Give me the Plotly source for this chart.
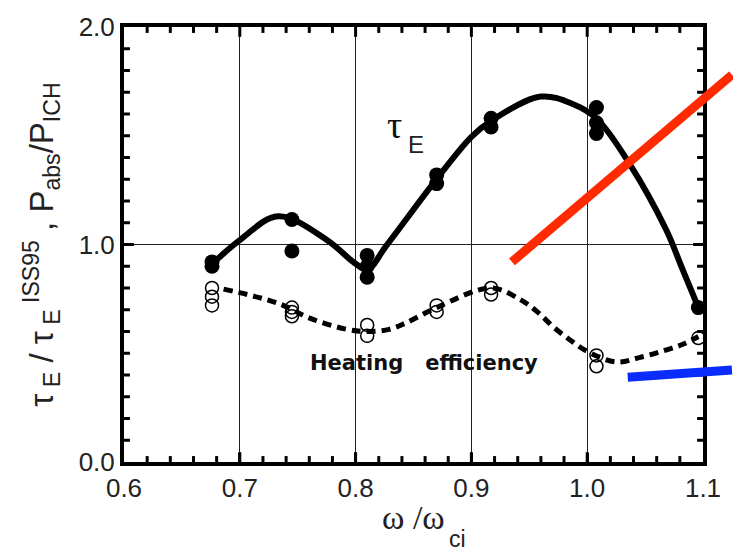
import plotly.graph_objects as go

# Measured points: normalized confinement time (filled) and heating efficiency (open)
tau_x = [0.676, 0.676, 0.745, 0.745, 0.81, 0.81, 0.81, 0.87, 0.87,
         0.917, 0.917, 1.008, 1.008, 1.008, 1.096]
tau_y = [0.90, 0.92, 1.115, 0.97, 0.95, 0.90, 0.85, 1.32, 1.28,
         1.58, 1.54, 1.63, 1.56, 1.51, 0.71]

eff_x = [0.676, 0.676, 0.676, 0.745, 0.745, 0.745, 0.81, 0.81, 0.87, 0.87,
         0.917, 0.917, 1.008, 1.008, 1.096]
eff_y = [0.80, 0.76, 0.72, 0.71, 0.69, 0.67, 0.63, 0.58, 0.72, 0.69,
         0.80, 0.77, 0.49, 0.44, 0.57]

# Hand-drawn guide curves through the data
tau_fit_x = [0.676, 0.70, 0.733, 0.7755, 0.798, 0.81, 0.8266, 0.8706, 0.90,
             0.9175, 0.96, 0.988, 1.008, 1.0367, 1.068, 1.082, 1.0963]
tau_fit_y = [0.91, 1.02, 1.13, 1.02, 0.92, 0.885, 0.995, 1.305, 1.495,
             1.57, 1.68, 1.645, 1.58, 1.37, 1.07, 0.89, 0.706]

eff_fit_x = [0.686, 0.733, 0.761, 0.7925, 0.81, 0.829, 0.8436, 0.87, 0.917,
             0.943, 0.957, 0.971, 0.9855, 0.9995, 1.025, 1.045, 1.065, 1.082, 1.096]
eff_fit_y = [0.795, 0.73, 0.66, 0.61, 0.60, 0.61, 0.64, 0.71, 0.80,
             0.744, 0.69, 0.62, 0.56, 0.51, 0.46, 0.48, 0.51, 0.54, 0.577]

X_RANGE = [0.6, 1.1]
Y_RANGE = [0.0, 2.0]
X_MAJOR, X_MINOR = 0.1, 0.02
Y_MAJOR, Y_MINOR = 1.0, 0.1

# Highlight strokes (axis units), drawn beyond the frame on the right
red_stroke = [(0.935, 0.92), (1.125, 1.78)]
blue_stroke = [(1.035, 0.39), (1.125, 0.423)]

WIDTH, HEIGHT = 733, 553
MARGIN = dict(l=124, r=22, t=21, b=91)
PLOT_W = WIDTH - MARGIN["l"] - MARGIN["r"]
PLOT_H = HEIGHT - MARGIN["t"] - MARGIN["b"]
X_PER_PX = (X_RANGE[1] - X_RANGE[0]) / PLOT_W
Y_PER_PX = (Y_RANGE[1] - Y_RANGE[0]) / PLOT_H


def to_paper(pt):
    x, y = pt
    return ((x - X_RANGE[0]) / (X_RANGE[1] - X_RANGE[0]),
            (y - Y_RANGE[0]) / (Y_RANGE[1] - Y_RANGE[0]))


SERIF = "Liberation Serif, Times New Roman, serif"
SANS = "Liberation Sans, Arial, sans-serif"
TEXT = "#222"

fig = go.Figure()

fig.add_trace(go.Scatter(
    x=tau_fit_x, y=tau_fit_y, mode="lines",
    line=dict(color="black", width=6, shape="spline", smoothing=1.0),
    hoverinfo="skip", showlegend=False))

fig.add_trace(go.Scatter(
    x=eff_fit_x, y=eff_fit_y, mode="lines",
    line=dict(color="black", width=5, shape="spline", smoothing=1.0,
              dash="9px,6px"),
    hoverinfo="skip", showlegend=False))

fig.add_trace(go.Scatter(
    x=eff_x, y=eff_y, mode="markers",
    marker=dict(symbol="circle-open", size=13, color="black",
                line=dict(width=1.5, color="black")),
    showlegend=False))

fig.add_trace(go.Scatter(
    x=tau_x, y=tau_y, mode="markers",
    marker=dict(symbol="circle", size=15, color="black"),
    showlegend=False))


# Inward tick marks on all four sides of the frame, as one segment trace
def tick_values(lo, hi, step):
    n = int(round((hi - lo) / step))
    return [round(lo + i * step, 6) for i in range(1, n)]


def is_major(v, step):
    return abs(v / step - round(v / step)) < 1e-6


tick_x, tick_y = [], []
for v in tick_values(X_RANGE[0], X_RANGE[1], X_MINOR):
    h = (10 if is_major(v, X_MAJOR) else 6) * Y_PER_PX
    tick_x += [v, v, None, v, v, None]
    tick_y += [Y_RANGE[0], Y_RANGE[0] + h, None, Y_RANGE[1], Y_RANGE[1] - h, None]
for v in tick_values(Y_RANGE[0], Y_RANGE[1], Y_MINOR):
    w = (10 if is_major(v, Y_MAJOR) else 6) * X_PER_PX
    tick_x += [X_RANGE[0], X_RANGE[0] + w, None, X_RANGE[1], X_RANGE[1] - w, None]
    tick_y += [v, v, None, v, v, None]

fig.add_trace(go.Scatter(
    x=tick_x, y=tick_y, mode="lines", line=dict(color="black", width=3),
    hoverinfo="skip", showlegend=False, connectgaps=False))

for (p0, p1), col in ((red_stroke, "#ff2a00"), (blue_stroke, "#0a2cff")):
    a, b = to_paper(p0), to_paper(p1)
    fig.add_shape(type="line", xref="paper", yref="paper",
                  x0=a[0], y0=a[1], x1=b[0], y1=b[1],
                  line=dict(color=col, width=9))

# curve labels
fig.add_annotation(x=0.834, y=1.55, xref="x", yref="y", showarrow=False,
                   text="τ", font=dict(family=SERIF, size=38, color="#111"))
fig.add_annotation(x=0.852, y=1.46, xref="x", yref="y", showarrow=False,
                   text="E", font=dict(family=SANS, size=24, color=TEXT))
fig.add_annotation(x=0.859, y=0.455, xref="x", yref="y", showarrow=False,
                   text="<b>Heating   efficiency</b>",
                   font=dict(family="DejaVu Sans, Verdana, sans-serif",
                             size=21, color="#111"))

# x-axis title: ω /ω with a dropped "ci" subscript
fig.add_annotation(x=0.85, y=-0.127, xref="x", yref="paper", showarrow=False,
                   xanchor="center", yanchor="middle",
                   text="ω /ω", font=dict(family=SERIF, size=34, color=TEXT))
fig.add_annotation(x=0.888, y=-0.178, xref="x", yref="paper", showarrow=False,
                   xanchor="center", yanchor="middle",
                   text="ci", font=dict(family=SANS, size=23, color=TEXT))

fig.update_xaxes(
    range=X_RANGE, dtick=X_MAJOR, tickformat=".1f",
    showline=True, linewidth=4, linecolor="black", mirror=True,
    ticks="inside", ticklen=9, tickwidth=3, tickcolor="black",
    showgrid=True, gridcolor="#222", gridwidth=1, zeroline=False,
    tickfont=dict(family=SANS, size=26, color=TEXT))

fig.update_yaxes(
    range=Y_RANGE, dtick=Y_MAJOR, tickformat=".1f",
    showline=True, linewidth=4, linecolor="black", mirror=True,
    ticks="inside", ticklen=9, tickwidth=3, tickcolor="black",
    showgrid=True, gridcolor="#222", gridwidth=1, zeroline=False,
    tickfont=dict(family=SANS, size=26, color=TEXT),
    title=dict(
        text="τ<sub> E</sub> / τ<sub> E</sub><sup> ISS95</sup> ,"
             " P<sub>abs</sub>/P<sub>ICH</sub>",
        font=dict(family=SANS, size=33, color=TEXT), standoff=16))

fig.update_layout(
    width=WIDTH, height=HEIGHT,
    margin=MARGIN,
    plot_bgcolor="white", paper_bgcolor="white",
    showlegend=False,
)

fig.write_html("out.html")
